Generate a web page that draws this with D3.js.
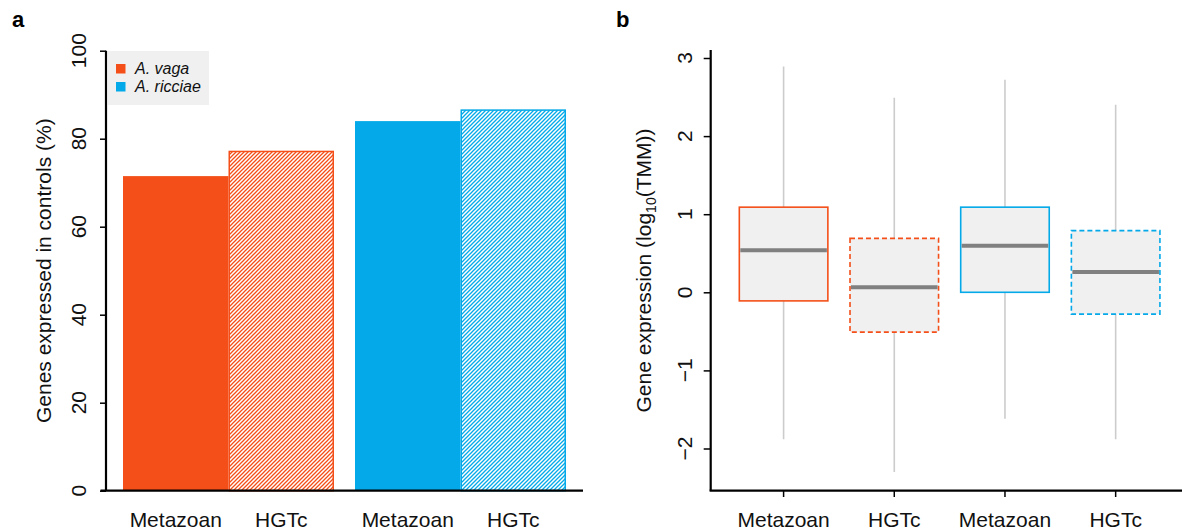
<!DOCTYPE html>
<html>
<head>
<meta charset="utf-8">
<script src="https://cdn.jsdelivr.net/npm/d3@7"></script>
<style>
  body { margin: 0; background: #fff; }
  svg { display: block; font-family: "Liberation Sans", Arial, sans-serif; }
</style>
</head>
<body>
<svg id="chart" width="1182" height="531"></svg>
<script>
// ---------- data ----------
const categories = ["Metazoan", "HGTc"];
const species = ["A. vaga", "A. ricciae"];
const speciesColors = ["#f44f19", "#03a9e8"];
const barValues = [[71.5, 77.1], [84.0, 86.5]]; // [species][category]
const barTicks = [0, 20, 40, 60, 80, 100];

const boxLabels = ["Metazoan", "HGTc", "Metazoan", "HGTc"];
const boxSpecies = [0, 0, 1, 1];
const boxDashed = [false, true, false, true];
const whiskerLow = [-1.88, -2.30, -1.62, -1.88];
const q1 = [-0.11, -0.51, 0.0, -0.28];
const medians = [0.54, 0.065, 0.595, 0.26];
const q3 = [1.09, 0.69, 1.09, 0.79];
const whiskerHigh = [2.89, 2.49, 2.72, 2.40];
const boxTicks = [-2, -1, 0, 1, 2, 3];

const svg = d3.select("#chart");
const FONT = 21;

// ---------- panel a ----------
const yA = d3.scaleLinear().domain([0, 100]).range([490.7, 50.7]);
const xOuter = d3.scaleBand().domain(d3.range(species.length)).range([106, 583])
  .paddingInner(0.0905).paddingOuter(0.0733);
const xInner = d3.scaleBand().domain(d3.range(categories.length)).range([0, xOuter.bandwidth()]);

const defs = svg.append("defs");
speciesColors.forEach((c, i) => {
  const p = defs.append("pattern").attr("id", "hatch" + i)
    .attr("patternUnits", "userSpaceOnUse").attr("width", 4).attr("height", 4);
  p.append("rect").attr("width", 4).attr("height", 4).attr("fill", "#fff");
  p.append("path").attr("d", "M-1,1 l2,-2 M0,4 l4,-4 M3,5 l2,-2")
    .attr("stroke", c).attr("stroke-width", 1.3);
});

const gA = svg.append("g");
species.forEach((s, si) => {
  categories.forEach((c, ci) => {
    const v = barValues[si][ci];
    const x = xOuter(si) + xInner(ci);
    gA.append("rect")
      .attr("x", x + (ci === 1 ? 0.75 : 0))
      .attr("y", yA(v))
      .attr("width", xInner.bandwidth() - (ci === 1 ? 1.5 : 0))
      .attr("height", yA(0) - yA(v))
      .attr("fill", ci === 0 ? speciesColors[si] : `url(#hatch${si})`)
      .attr("stroke", speciesColors[si])
      .attr("stroke-width", ci === 0 ? 0 : 1.5);
    gA.append("text")
      .attr("x", x + xInner.bandwidth() / 2)
      .attr("y", 527)
      .attr("text-anchor", "middle")
      .attr("font-size", FONT)
      .attr("fill", "#111")
      .text(c);
  });
});

// axes panel a
const axA = gA.append("g").attr("transform", "translate(106,0)")
  .call(d3.axisLeft(yA).tickValues(barTicks).tickSize(6).tickFormat(d3.format("d")));
axA.select(".domain").remove();
axA.selectAll(".tick line").attr("stroke", "#000").attr("stroke-width", 1.5);
axA.selectAll(".tick text").remove();
barTicks.forEach(t => {
  gA.append("text")
    .attr("transform", `translate(85.5,${yA(t)}) rotate(-90)`)
    .attr("text-anchor", "middle").attr("font-size", FONT).attr("fill", "#111")
    .text(t);
});
gA.append("line").attr("x1", 106).attr("x2", 106).attr("y1", yA(100)).attr("y2", yA(0))
  .attr("stroke", "#000").attr("stroke-width", 2.2);
gA.append("line").attr("x1", 100.5).attr("x2", 583).attr("y1", yA(0)).attr("y2", yA(0))
  .attr("stroke", "#000").attr("stroke-width", 2.2);
gA.append("text")
  .attr("transform", `translate(51,${(yA(0) + yA(100)) / 2}) rotate(-90)`)
  .attr("text-anchor", "middle").attr("font-size", FONT).attr("fill", "#111")
  .text("Genes expressed in controls (%)");

// legend
const leg = gA.append("g");
leg.append("rect").attr("x", 108).attr("y", 51).attr("width", 101).attr("height", 54).attr("fill", "#f0f0f0");
species.forEach((s, i) => {
  leg.append("rect").attr("x", 116).attr("y", 64 + i * 18).attr("width", 9.5).attr("height", 9.5)
    .attr("fill", speciesColors[i]);
  leg.append("text").attr("x", 135).attr("y", 73.5 + i * 18)
    .attr("font-size", 16).attr("font-style", "italic").attr("fill", "#111").text(s);
});

svg.append("text").attr("x", 12).attr("y", 27).attr("font-size", 22).attr("font-weight", "bold").text("a");

// ---------- panel b ----------
const yB = d3.scaleLinear().domain([0, 3]).range([292.3, 292.3 - 3 * 78.1]);
const xB = d3.scaleBand().domain(d3.range(boxLabels.length)).range([728.25, 1171])
  .paddingInner(0.2).paddingOuter(0.1);
const gB = svg.append("g");

boxLabels.forEach((lab, i) => {
  const cx = xB(i) + xB.bandwidth() / 2;
  const col = speciesColors[boxSpecies[i]];
  gB.append("line").attr("x1", cx).attr("x2", cx)
    .attr("y1", yB(whiskerHigh[i])).attr("y2", yB(whiskerLow[i]))
    .attr("stroke", "#cccccc").attr("stroke-width", 1.6);
  gB.append("rect")
    .attr("x", xB(i)).attr("y", yB(q3[i]))
    .attr("width", xB.bandwidth()).attr("height", yB(q1[i]) - yB(q3[i]))
    .attr("fill", "#f0f0f0")
    .attr("stroke", col).attr("stroke-width", 1.6)
    .attr("stroke-dasharray", boxDashed[i] ? "5,3" : null);
  gB.append("line").attr("x1", xB(i) + 1).attr("x2", xB(i) + xB.bandwidth() - 1)
    .attr("y1", yB(medians[i])).attr("y2", yB(medians[i]))
    .attr("stroke", "#808080").attr("stroke-width", 4);
  gB.append("line").attr("x1", cx).attr("x2", cx).attr("y1", 490.7).attr("y2", 497)
    .attr("stroke", "#000").attr("stroke-width", 1.5);
  gB.append("text").attr("x", cx).attr("y", 527).attr("text-anchor", "middle")
    .attr("font-size", FONT).attr("fill", "#111").text(lab);
});

const axB = gB.append("g").attr("transform", "translate(710.7,0)")
  .call(d3.axisLeft(yB).tickValues(boxTicks).tickSize(7));
axB.select(".domain").remove();
axB.selectAll(".tick line").attr("stroke", "#000").attr("stroke-width", 1.5);
axB.selectAll(".tick text").remove();
boxTicks.forEach(t => {
  gB.append("text")
    .attr("transform", `translate(691.5,${yB(t)}) rotate(-90)`)
    .attr("text-anchor", "middle").attr("font-size", FONT).attr("fill", "#111")
    .text(t < 0 ? "\u2212" + Math.abs(t) : t);
});
gB.append("line").attr("x1", 710.7).attr("x2", 710.7).attr("y1", 50).attr("y2", 490.7)
  .attr("stroke", "#000").attr("stroke-width", 2.2);
gB.append("line").attr("x1", 709.6).attr("x2", 1182).attr("y1", 490.7).attr("y2", 490.7)
  .attr("stroke", "#000").attr("stroke-width", 2.2);

const tB = gB.append("text")
  .attr("transform", `translate(651,270.5) rotate(-90)`)
  .attr("text-anchor", "middle").attr("font-size", FONT).attr("fill", "#111");
tB.append("tspan").text("Gene expression (log");
tB.append("tspan").attr("font-size", 14).attr("dy", 5).text("10");
tB.append("tspan").attr("dy", -5).text("(TMM))");

svg.append("text").attr("x", 616).attr("y", 27).attr("font-size", 22).attr("font-weight", "bold").text("b");
</script>
</body>
</html>
